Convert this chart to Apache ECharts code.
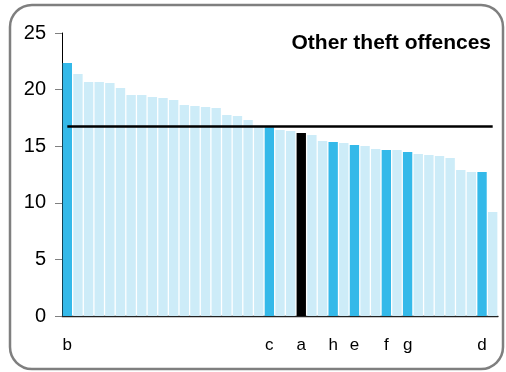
<!DOCTYPE html>
<html>
<head>
<meta charset="utf-8">
<style>
  html, body { margin: 0; padding: 0; background: #ffffff; }
  #chart { width: 506px; height: 372px; }
</style>
<script src="https://cdn.jsdelivr.net/npm/echarts@6/dist/echarts.min.js"></script>
</head>
<body>
<div id="chart"></div>
<script>
// Rate per area, sorted from highest to lowest
const values = [
  22.35, 21.38, 20.67, 20.67, 20.58, 20.14, 19.52, 19.52, 19.35, 19.26,
  19.08, 18.64, 18.55, 18.46, 18.37, 17.76, 17.67, 17.31, 16.80, 16.67,
  16.43, 16.34, 16.17, 15.99, 15.46, 15.37, 15.28, 15.11, 15.02, 14.75,
  14.66, 14.66, 14.49, 14.31, 14.22, 14.13, 13.96, 12.90, 12.72, 12.72,
  9.19
];

// Labelled areas, keyed by bar position
const letters = { 0: 'b', 19: 'c', 22: 'a', 25: 'h', 27: 'e', 30: 'f', 32: 'g', 39: 'd' };

// Overall average
const average = 16.8;

const yTicks = [0, 5, 10, 15, 20, 25];
const title = 'Other theft offences';

const categories = values.map((_, i) => String(i + 1));

const COLOR_FOCUS = '#000000';
const COLOR_MARKED = '#34b9e9';
const COLOR_OTHER = '#cdecf8';

const barData = values.map((v, i) => ({
  value: v,
  itemStyle: {
    color: letters[i] === 'a' ? COLOR_FOCUS : (letters[i] ? COLOR_MARKED : COLOR_OTHER)
  }
}));

const FONT = "'Liberation Sans', Arial, Helvetica, sans-serif";

const chart = echarts.init(document.getElementById('chart'), null, { renderer: 'canvas' });

chart.setOption({
  animation: false,
  backgroundColor: '#ffffff',
  graphic: [
    {
      type: 'rect',
      shape: { x: 10, y: 5, width: 493, height: 364, r: 22 },
      style: { fill: 'none', stroke: '#7f7f7f', lineWidth: 2.5 },
      z: 100
    },
    {
      type: 'text',
      right: 15,
      top: 33,
      style: {
        text: title,
        font: "bold 21px " + FONT,
        fill: '#000000',
        textAlign: 'right'
      },
      z: 101
    }
  ],
  grid: { left: 62, right: 8, top: 33, bottom: 56, containLabel: false },
  xAxis: {
    type: 'category',
    data: categories,
    boundaryGap: true,
    axisLine: { show: true, lineStyle: { color: '#222222', width: 1.3 } },
    axisTick: { show: false },
    axisLabel: {
      interval: 0,
      margin: 21,
      fontSize: 17,
      fontFamily: FONT,
      color: '#000000',
      formatter: (v, i) => letters[i] || ''
    }
  },
  yAxis: {
    type: 'value',
    min: yTicks[0],
    max: yTicks[yTicks.length - 1],
    interval: 5,
    splitLine: { show: false },
    axisLine: { show: true, lineStyle: { color: '#000000', width: 1 } },
    axisTick: { show: true, inside: false, length: 7, lineStyle: { color: '#808080', width: 1 } },
    axisLabel: {
      margin: 16,
      fontSize: 20,
      fontFamily: FONT,
      color: '#000000'
    }
  },
  series: [
    {
      type: 'bar',
      data: barData,
      barCategoryGap: '12%',
      markLine: {
        silent: true,
        symbol: 'none',
        label: { show: false },
        lineStyle: { color: '#000000', width: 2.5, type: 'solid' },
        data: [
          [
            { coord: [categories[0], average] },
            { coord: [categories[categories.length - 1], average] }
          ]
        ]
      }
    }
  ]
});
</script>
</body>
</html>
